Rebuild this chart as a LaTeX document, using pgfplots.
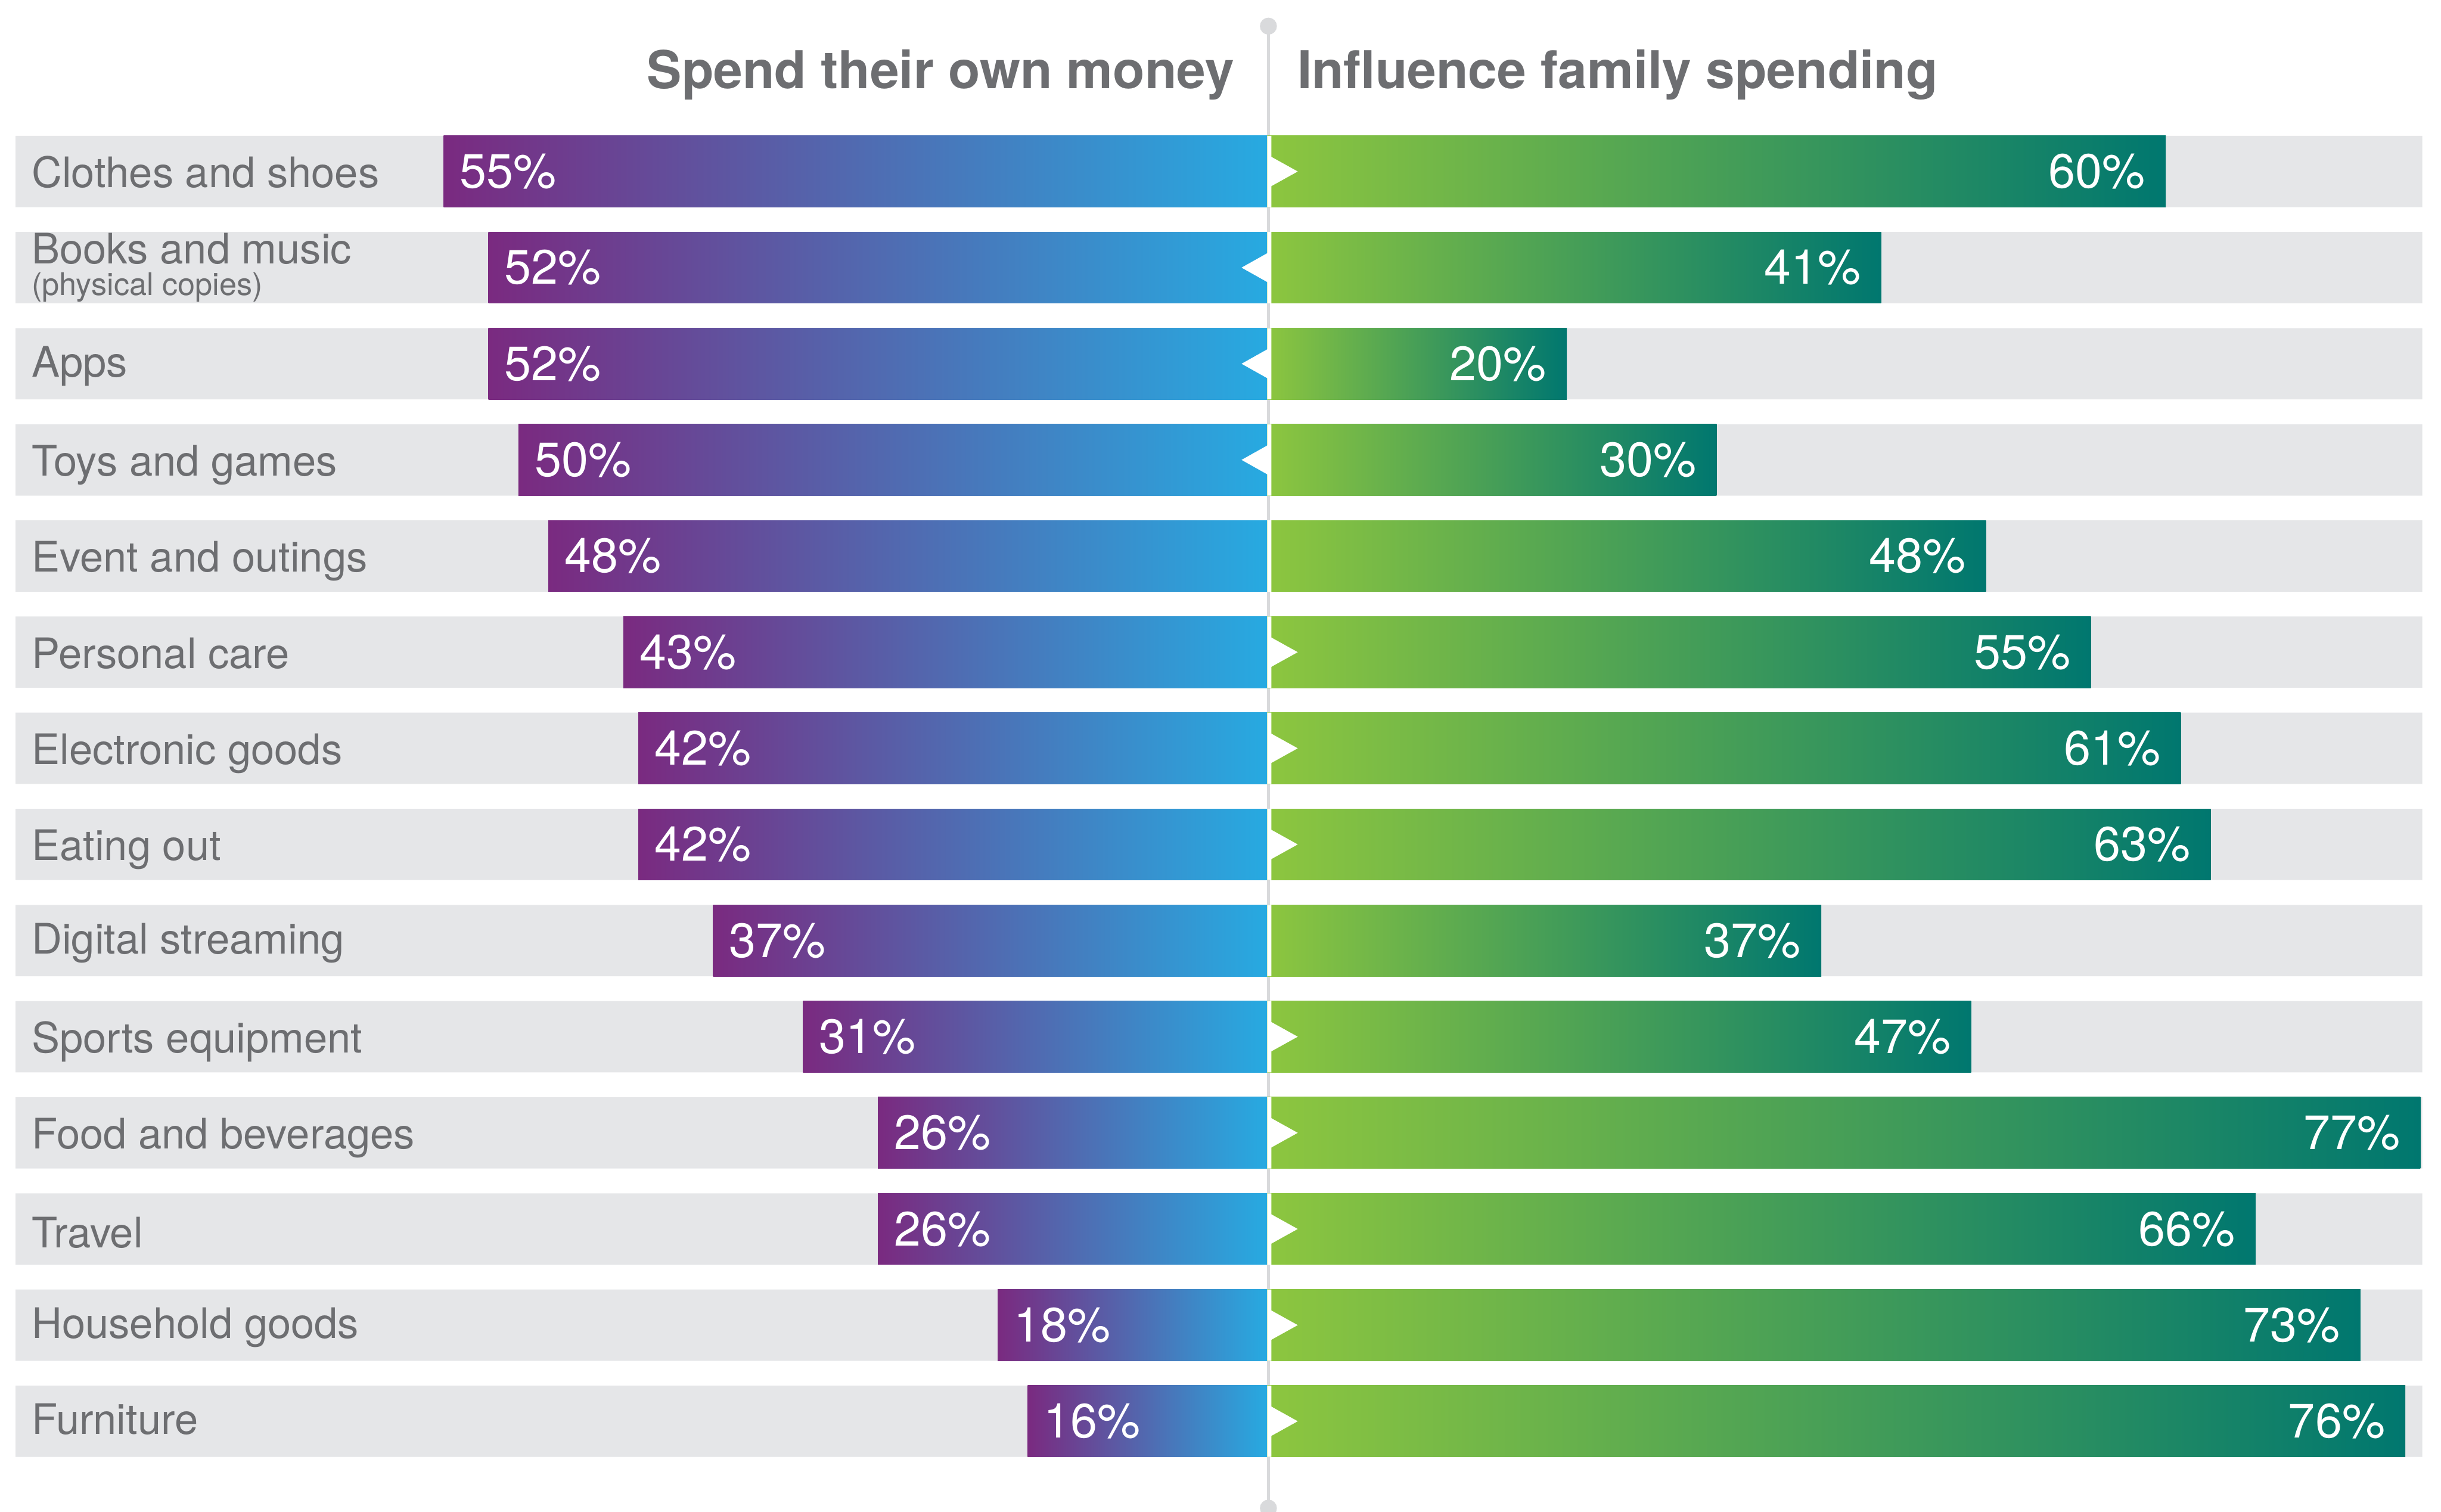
\documentclass[border=0pt]{standalone}
\usepackage{fontspec}
\setmainfont{TeX Gyre Heros}
\usepackage{pgfplots}
\usepackage{pgfplotstable}
\pgfplotsset{compat=1.18}
\definecolor{bggray}{HTML}{E5E6E8}
\definecolor{txtgray}{HTML}{6D6E71}
\definecolor{linegray}{HTML}{D9DADC}
\definecolor{purp}{HTML}{7A2A80}
\definecolor{blu}{HTML}{27AAE1}
\definecolor{grn}{HTML}{8DC63F}
\definecolor{tealx}{HTML}{00776F}

\pgfdeclareplotmark{rtri}{%
  \pgfpathmoveto{\pgfpoint{-0.2pt}{4.8pt}}%
  \pgfpathlineto{\pgfpoint{8.45pt}{0pt}}%
  \pgfpathlineto{\pgfpoint{-0.2pt}{-4.8pt}}%
  \pgfpathclose
  \pgfusepathqfill}
\pgfdeclareplotmark{ltri}{%
  \pgfpathmoveto{\pgfpoint{0.3pt}{4.8pt}}%
  \pgfpathlineto{\pgfpoint{-8.25pt}{0pt}}%
  \pgfpathlineto{\pgfpoint{0.3pt}{-4.8pt}}%
  \pgfpathclose
  \pgfusepathqfill}

\newcommand\catfont{\fontsize{13.5pt}{16pt}\selectfont}
\newcommand\valfont{\fontsize{15.5pt}{17pt}\selectfont}
\newcommand\titfont{\fontsize{16.75pt}{19pt}\selectfont\bfseries}

\pgfplotstableread{
row left right
0 55 60
1 52 41
2 52 20
3 50 30
4 48 48
5 43 55
6 42 61
7 42 63
8 37 37
9 31 47
10 26 77
11 26 66
12 18 73
13 16 76
}\datatable

\begin{document}
\begin{tikzpicture}
\begin{axis}[name=ax, scale only axis, width=784pt, height=485.5pt,
  xmin=-84.62, xmax=78.38, ymin=-1.7838, ymax=13.941, y dir=reverse,
  hide axis, clip=false]
% grey backgrounds
\addplot[xbar, bar shift=0pt, bar width=0.742, fill=bggray, draw=none]
  table[x expr=-83.58, y=row]{\datatable};
\addplot[xbar, bar shift=0pt, bar width=0.742, fill=bggray, draw=none]
  table[x expr=77.13, y=row]{\datatable};
% centre line with end dots
\addplot[linegray, line width=0.85pt, mark=*, mark size=2.3pt,
  mark options={fill=linegray, draw=none}]
  coordinates {(0.078,-1.512) (0.078,13.904)};
% bars, one plot per row so that each bar carries its own gradient
\pgfplotsinvokeforeach{0,...,13}{
\addplot[xbar, bar shift=0pt, bar width=0.742, draw=none,
  left color=purp, right color=blu,
  restrict expr to domain={\coordindex}{#1:#1},
  point meta=explicit symbolic,
  nodes near coords={\pgfplotspointmeta\%},
  every node near coord/.style={anchor=west, xshift=5pt, text=white,
    font=\valfont, inner sep=0pt}]
  table[x expr=-\thisrow{left}, y=row, meta=left]{\datatable};
\addplot[xbar, bar shift=0pt, bar width=0.742, draw=none,
  left color=grn, right color=tealx,
  restrict expr to domain={\coordindex}{#1:#1},
  point meta=explicit symbolic,
  nodes near coords={\pgfplotspointmeta\%},
  every node near coord/.style={anchor=east, xshift=-6.35pt, text=white,
    font=\valfont, inner sep=0pt}]
  table[x=right, y=row, meta=right]{\datatable};
}
% white gap at the centre
\addplot[xbar, bar shift=0pt, bar width=0.742, fill=white, draw=none]
  table[x expr=0.28, y=row]{\datatable};
% arrows: which side is larger
\addplot[only marks, white, mark=rtri]
  coordinates {(0.28,0) (0.28,5) (0.28,6) (0.28,7) (0.28,9) (0.28,10) (0.28,11) (0.28,12) (0.28,13)};
\addplot[only marks, white, mark=ltri]
  coordinates {(0,1) (0,2) (0,3)};
% titles
\node[anchor=base east, inner sep=0pt, text=txtgray, font=\titfont] at (axis cs:-2.18,-0.861) {Spend their own money};
\node[anchor=base west, inner sep=0pt, text=txtgray, font=\titfont] at (axis cs:1.975,-0.861) {Influence family spending};
% category labels
\begin{scope}[every node/.style={anchor=base west, inner sep=0pt, text=txtgray, font=\catfont}]
\node at (axis cs:-82.54,0.167) {Clothes and shoes};
\node at (axis cs:-82.54,0.958) {Books and music};
\node[font=\fontsize{10pt}{12pt}\selectfont] at (axis cs:-82.54,1.291) {(physical copies)};
\node at (axis cs:-82.54,2.137) {Apps};
\node at (axis cs:-82.54,3.167) {Toys and games};
\node at (axis cs:-82.54,4.167) {Event and outings};
\node at (axis cs:-82.54,5.167) {Personal care};
\node at (axis cs:-82.54,6.167) {Electronic goods};
\node at (axis cs:-82.54,7.167) {Eating out};
\node at (axis cs:-82.54,8.137) {Digital streaming};
\node at (axis cs:-82.54,9.167) {Sports equipment};
\node at (axis cs:-82.54,10.167) {Food and beverages};
\node at (axis cs:-82.54,11.197) {Travel};
\node at (axis cs:-82.54,12.137) {Household goods};
\node at (axis cs:-82.54,13.137) {Furniture};
\end{scope}
\end{axis}
\pgfresetboundingbox
\path[use as bounding box] (ax.south west) rectangle (ax.north east);
\end{tikzpicture}
\end{document}
